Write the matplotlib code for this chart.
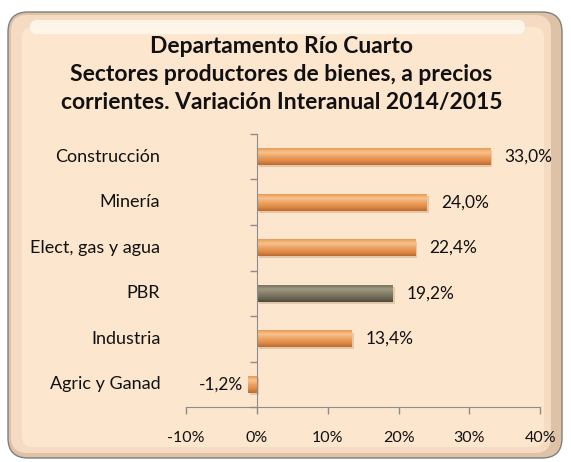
import numpy as np
import matplotlib.pyplot as plt
from matplotlib.patches import FancyBboxPatch
from matplotlib.colors import LinearSegmentedColormap

# Data
sectores = ["Agric y Ganad", "Industria", "PBR", "Elect, gas y agua", "Minería", "Construcción"]
variacion = [-1.2, 13.4, 19.2, 22.4, 24.0, 33.0]
etiquetas = ["-1,2%", "13,4%", "19,2%", "22,4%", "24,0%", "33,0%"]
xticks = [-10, 0, 10, 20, 30, 40]
xtick_labels = ["-10%", "0%", "10%", "20%", "30%", "40%"]

titulo = ("Departamento Río Cuarto\n"
          "Sectores productores de bienes, a precios\n"
          "corrientes. Variación Interanual 2014/2015")

plt.rcParams["font.family"] = ["Lato", "DejaVu Sans"]

peach = "#FDE6CE"
axis_gray = "#8C8C8C"
text_col = "#111111"
orange_cmap = LinearSegmentedColormap.from_list(
    "orange", ["#BF6A30", "#DE8C47", "#EDA262", "#F8C38E", "#E99A55"])
gray_cmap = LinearSegmentedColormap.from_list(
    "gray", ["#4F4B3C", "#6D6955", "#857F69", "#9E9A82", "#7A7562"])

fig = plt.figure(figsize=(5.71, 4.62), dpi=100)
fig.patch.set_facecolor("white")

# rounded frame with a soft bevel (inches, from the bottom-left corner)
tr = fig.dpi_scale_trans
frame = FancyBboxPatch((0.08, 0.04), 5.54, 4.46,
                       boxstyle="round,pad=0,rounding_size=0.2",
                       transform=tr, facecolor="#DEC2A8", edgecolor="#7F7F7F",
                       linewidth=1.0, zorder=-5)
fig.patches.append(frame)
bevel = FancyBboxPatch((0.11, 0.09), 5.40, 4.38,
                       boxstyle="round,pad=0,rounding_size=0.16",
                       transform=tr, facecolor="#F4DBC2", edgecolor="none", zorder=-4)
fig.patches.append(bevel)
inner = FancyBboxPatch((0.22, 0.15), 5.22, 4.20,
                       boxstyle="round,pad=0,rounding_size=0.10",
                       transform=tr, facecolor=peach, edgecolor="none", zorder=-3)
fig.patches.append(inner)
shine = FancyBboxPatch((0.30, 4.28), 4.95, 0.14,
                       boxstyle="round,pad=0,rounding_size=0.07",
                       transform=tr, facecolor="#FFFAF3", edgecolor="none",
                       alpha=0.8, zorder=-2)
fig.patches.append(shine)

fig.text(0.493, 0.922, titulo, ha="center", va="top", fontsize=16.5,
         fontweight="bold", linespacing=1.42, color=text_col)

ax = fig.add_axes([0.326, 0.119, 0.620, 0.591])
ax.set_facecolor("none")

y = np.arange(len(sectores))
bars = ax.barh(y, variacion, height=0.37, color="none", edgecolor="none", zorder=3)

grad = np.linspace(0, 1, 64).reshape(-1, 1)
for bar, name in zip(bars, sectores):
    x0, y0 = bar.get_x(), bar.get_y()
    w, h = bar.get_width(), bar.get_height()
    cmap = gray_cmap if name == "PBR" else orange_cmap
    # soft shadow under the bar
    ax.barh(y0 + h / 2 - 0.05, w, left=x0 + 0.25, height=h, color="#C7A488",
            alpha=0.45, zorder=2)
    im = ax.imshow(grad, cmap=cmap, aspect="auto", origin="lower",
                   extent=(x0, x0 + w, y0, y0 + h), zorder=3)
    im.set_clip_path(bar)

for yi, v, lab in zip(y, variacion, etiquetas):
    if v >= 0:
        ax.annotate(lab, (v, yi), xytext=(10, 0), textcoords="offset points",
                    ha="left", va="center", fontsize=12.5, color=text_col)
    else:
        ax.annotate(lab, (v, yi), xytext=(-4, 0), textcoords="offset points",
                    ha="right", va="center", fontsize=12.5, color=text_col)

# category names sit at the left of the plot area, not at the zero line
for yi, name in zip(y, sectores):
    ax.text(-0.073, yi, name, transform=ax.get_yaxis_transform(),
            ha="right", va="center", fontsize=13, color=text_col)

ax.set_xlim(-10, 40)
ax.set_ylim(-0.5, len(sectores) - 0.5)
ax.set_xticks(xticks)
ax.set_xticklabels(xtick_labels)
ax.set_yticks([])
ax.set_yticks(np.arange(-0.5, len(sectores)), minor=True)
ax.tick_params(axis="y", which="minor", length=5, color=axis_gray, width=1)
ax.tick_params(axis="x", length=5, color=axis_gray, width=1, pad=12,
               labelsize=11.5, labelcolor=text_col)

for side in ["top", "right"]:
    ax.spines[side].set_visible(False)
ax.spines["left"].set_position(("data", 0))
ax.spines["left"].set_color(axis_gray)
ax.spines["bottom"].set_color(axis_gray)
ax.spines["left"].set_zorder(4)

fig.savefig("out.png", dpi=100)
